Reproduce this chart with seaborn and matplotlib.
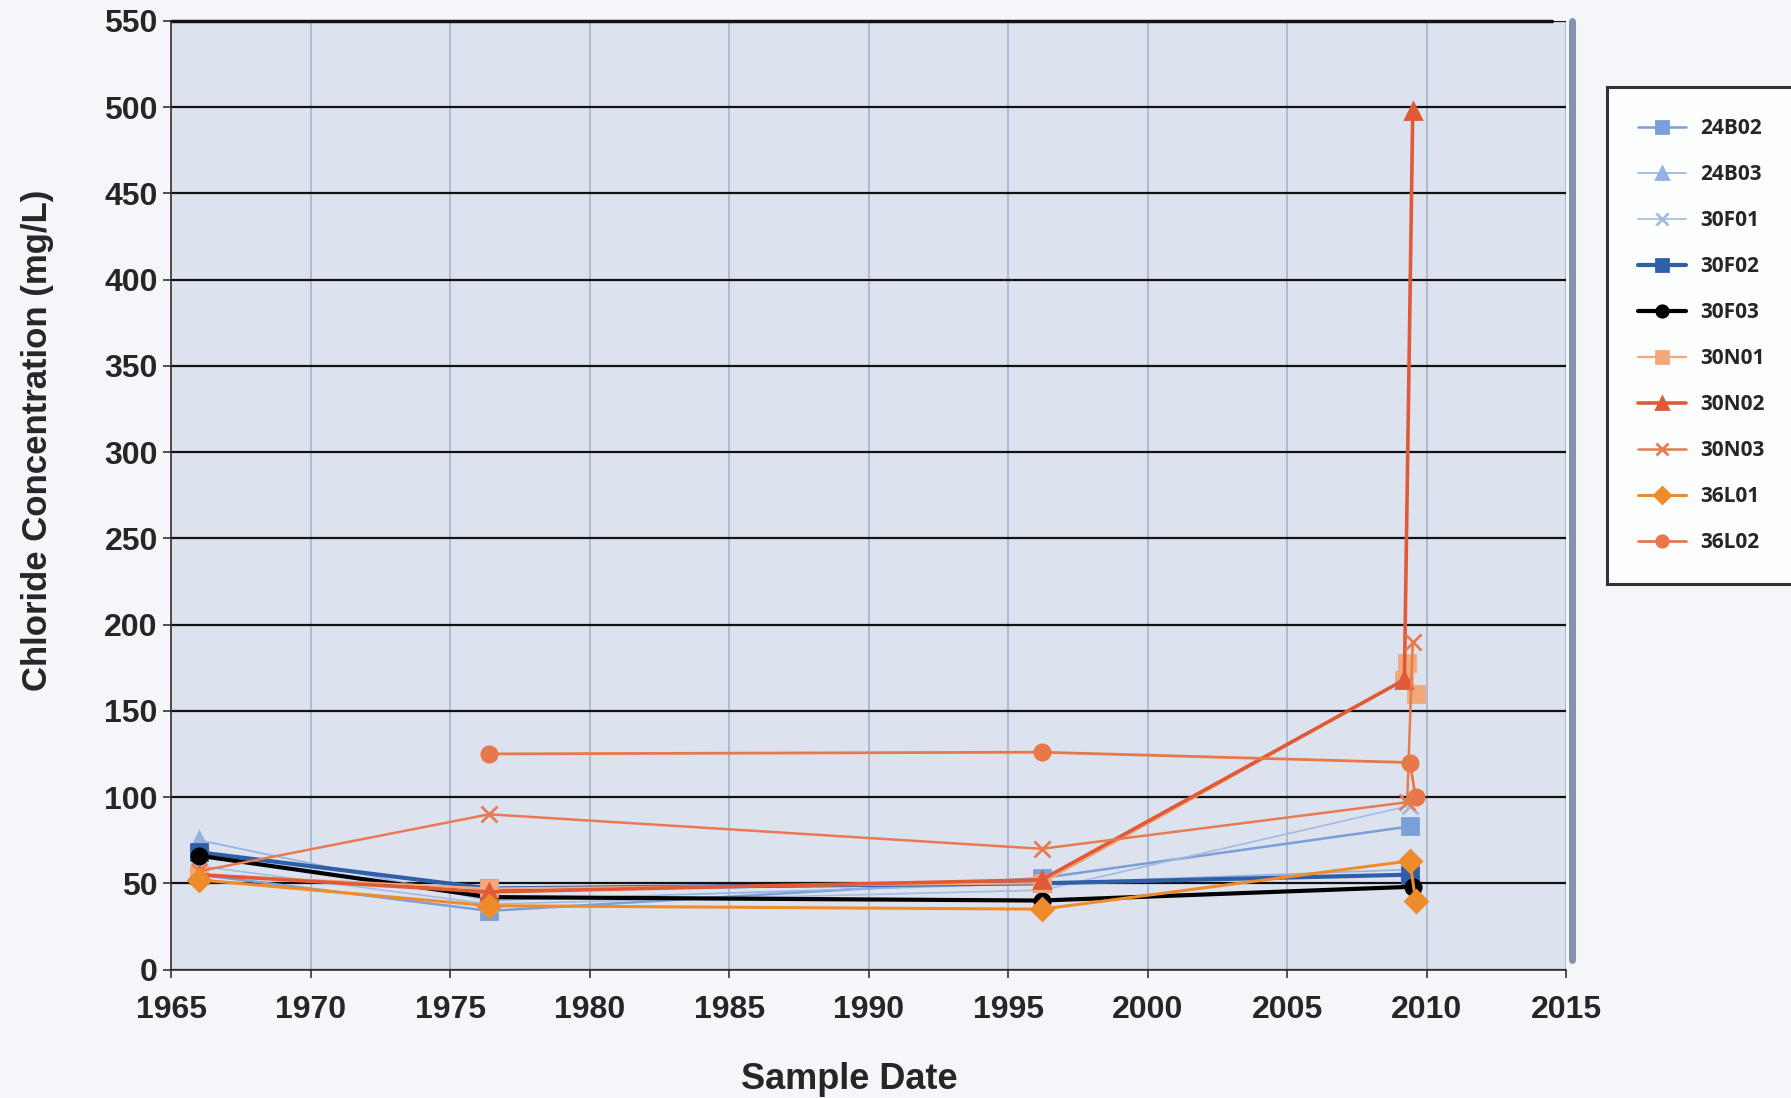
import matplotlib
matplotlib.use("Agg")
import matplotlib.pyplot as plt
import pandas as pd
import seaborn as sns

# Sample dates (decimal years) and chloride values (mg/L)
wells = ["24B02", "24B03", "30F01", "30F02", "30F03",
         "30N01", "30N02", "30N03", "36L01", "36L02"]

years = {
    "24B02": [1966.0, 1976.4, 1996.2, 2009.4],
    "24B03": [1966.0, 1976.4, 1996.2, 2009.4],
    "30F01": [1966.0, 1976.4, 1996.2, 2009.4],
    "30F02": [1966.0, 1976.4, 1996.2, 2009.4],
    "30F03": [1966.0, 1976.4, 1996.2, 2009.5],
    "30N01": [1966.0, 1976.4, 1996.2, 2009.2, 2009.3, 2009.6],
    "30N02": [1966.0, 1976.4, 1996.2, 2009.2, 2009.5],
    "30N03": [1966.0, 1976.4, 1996.2, 2009.3, 2009.5],
    "36L01": [1966.0, 1976.4, 1996.2, 2009.4, 2009.6],
    "36L02": [1976.4, 1996.2, 2009.4, 2009.6],
}

chloride = {
    "24B02": [55, 34, 53, 83],
    "24B03": [75, 40, 50, 58],
    "30F01": [60, 38, 46, 95],
    "30F02": [68, 47, 50, 55],
    "30F03": [66, 42, 40, 48],
    "30N01": [55, 47, 50, 168, 178, 160],
    "30N02": [55, 45, 52, 168, 498],
    "30N03": [57, 90, 70, 97, 190],
    "36L01": [52, 37, 35, 63, 40],
    "36L02": [125, 126, 120, 100],
}

colors = {
    "24B02": "#7b9fd8", "24B03": "#93b2e2", "30F01": "#a3bbe2",
    "30F02": "#2f5fa8", "30F03": "#000000", "30N01": "#f2a878",
    "30N02": "#e05a38", "30N03": "#e87a52", "36L01": "#ee8c2c",
    "36L02": "#e8784a",
}
markers = {
    "24B02": "s", "24B03": "^", "30F01": "x", "30F02": "s", "30F03": "o",
    "30N01": "s", "30N02": "^", "30N03": "x", "36L01": "D", "36L02": "o",
}
widths = {
    "24B02": 1.8, "24B03": 1.2, "30F01": 1.2, "30F02": 3.0, "30F03": 3.0,
    "30N01": 1.6, "30N02": 2.6, "30N03": 1.8, "36L01": 2.2, "36L02": 2.0,
}

y_ticks = list(range(0, 551, 50))
x_ticks = list(range(1965, 2016, 5))

sns.set_theme(style="white")
plt.rcParams["font.family"] = ["Liberation Sans", "DejaVu Sans"]

fig = plt.figure(figsize=(17.91, 10.98), dpi=100, facecolor="#f4f6f9")
ax = fig.add_axes([0.0955, 0.117, 0.779, 0.864])
ax.set_facecolor("#dde3ee")

for w in wells:
    df = pd.DataFrame({"Year": years[w], "Chloride": chloride[w]})
    ms = 11 if markers[w] != "x" else 12
    sns.lineplot(data=df, x="Year", y="Chloride", ax=ax, color=colors[w],
                 marker=markers[w], markersize=ms, linewidth=widths[w],
                 markeredgecolor=colors[w], markeredgewidth=2,
                 sort=False, label=w, zorder=3)

ax.set_xlim(1965, 2015)
ax.set_ylim(0, 550)
ax.set_xticks(x_ticks)
ax.set_yticks(y_ticks)
ax.yaxis.grid(True, color="#111111", linewidth=1.6, zorder=1)
ax.xaxis.grid(True, color="#9fb0cf", linewidth=1.1, zorder=1)
ax.set_axisbelow(True)

for side in ["top", "right"]:
    ax.spines[side].set_visible(False)
ax.spines["left"].set_color("#333333")
ax.spines["bottom"].set_color("#333333")
ax.spines["left"].set_linewidth(1.2)
ax.spines["bottom"].set_linewidth(1.2)
ax.axvline(2015.2, color="#8393ad", linewidth=5, ymin=0.01, ymax=1.0, clip_on=False)
ax.axhline(550, color="#111111", linewidth=2.5, xmin=0.0, xmax=0.99, clip_on=False)

ax.tick_params(axis="both", length=6, width=1.2, color="#333333",
               labelsize=23, direction="out", bottom=True, left=True)
ax.tick_params(axis="x", pad=12)
for lbl in ax.get_xticklabels() + ax.get_yticklabels():
    lbl.set_fontweight("bold")

ax.set_xlabel("Sample Date", fontsize=26, fontweight="bold")
ax.set_ylabel("Chloride Concentration (mg/L)", fontsize=25, fontweight="bold")
ax.xaxis.set_label_coords(0.486, -0.097)
ax.yaxis.set_label_coords(-0.084, 0.558)

leg = ax.legend(loc="upper left", bbox_to_anchor=(1.026, 0.935), frameon=True,
                fancybox=False, edgecolor="black", facecolor="white",
                prop={"family": "Open Sans", "weight": "bold", "size": 15},
                handlelength=2.3, labelspacing=1.2, borderpad=1.5,
                handletextpad=0.7, markerscale=0.75, borderaxespad=0.2)
leg.get_frame().set_linewidth(2.2)

fig.savefig("out.png", dpi=100, facecolor=fig.get_facecolor())
